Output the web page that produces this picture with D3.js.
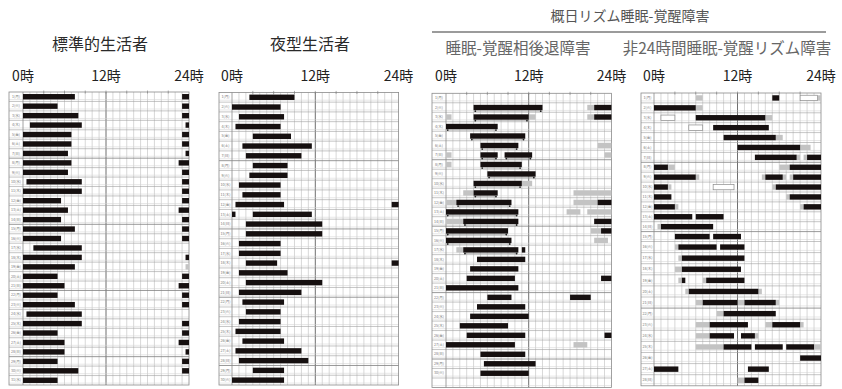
<!DOCTYPE html>
<html>
<head>
<meta charset="utf-8">
<script src="https://cdn.jsdelivr.net/npm/d3@7"></script>
<style>
  body { margin: 0; background: #fff; }
  svg { display: block; }
  text { font-family: "Noto Sans CJK JP", "Noto Sans", sans-serif; }
</style>
</head>
<body>
<svg id="chart" width="842" height="389"></svg>
<script>
// ---- data -------------------------------------------------------------
const groupTitle = "概日リズム睡眠-覚醒障害";
const panelTitles = ["標準的生活者", "夜型生活者", "睡眠-覚醒相後退障害", "非24時間睡眠-覚醒リズム障害"];
const hourTicks = [0, 12, 24];
const hourTickLabels = ["0時", "12時", "24時"];
const weekdays = ["月", "火", "水", "木", "金", "土", "日"];
const dayCounts = [31, 30, 31, 28];

// sleep episodes: [day, start hour, end hour]
const standardSleep = [
  [0,0,7.5],[0,23,24],[1,0,5],[1,23,24],[2,0,8],[2,23,24],[3,1,8.5],[3,23.5,24],
  [4,0,7],[4,23,24],[5,0,7],[5,23,24],[6,0,6.5],[6,23.5,24],[7,0,7],[7,22.5,24],
  [8,0,6.5],[8,23,24],[9,0.5,8.5],[9,23,24],[10,0,8.5],[10,23,24],[11,0,5.5],[11,23,24],
  [12,0,6.5],[12,22.5,24],[13,0,5.5],[13,23,24],[14,0,7.5],[14,23,24],[15,0,5.5],[15,23,24],
  [16,1.5,8.5],[17,0,8.5],[17,23.5,24],[18,0,7.5],[19,0,5],[19,23,24],[20,0,6],[20,22.5,24],
  [21,0,5],[21,23,24],[22,0,7.5],[22,23,24],[23,0.5,8.5],[24,0,8.5],[24,23,24],
  [25,0,5],[25,23,24],[26,0,6],[26,22.5,24],[27,0,6],[27,23.5,24],[28,0,5],[28,23,24],
  [29,0,8],[29,23,24],[30,0,5]
];
const standardDozing = [[18,23.5,24]];

const eveningSleep = [
  [0,2.5,9],[1,0,7],[2,1,7.5],[3,0.5,7],[4,3,8.5],[5,1.5,11.5],[6,2,10],[7,3,8],
  [8,2.5,8],[9,1,7],[10,1.5,7],[11,0.5,7.5],[11,23,24],[12,0,0.5],[12,3,11.5],
  [13,2,13],[14,2,13],[15,1,7],[16,1,7],[17,2,6.5],[17,23,24],[18,1,8],[19,2,13],
  [20,1,10],[21,1.5,7.5],[22,2,7],[23,1,7],[24,0.5,7],[25,1.5,7.5],[26,0.5,10],
  [27,1,11],[28,3,7.5],[29,0,7.5]
];

const dspdSleep = [
  [1,4,14],[1,21.5,24],[2,4,12],[2,21.5,24],[3,0,7.5],[4,3.5,11.5],[5,5,10.5],
  [6,5,7.5],[6,8.5,12.5],[7,5,11],[8,6,13],[9,4,11],[10,4,7.5],[11,1.5,9.5],[11,22,24],
  [12,0,10.5],[13,2.5,10.5],[13,21.5,24],[14,0,9],[14,22.5,24],[15,0,9.5],
  [16,2.5,10.5],[16,11,11.5],[17,4.5,11.5],[18,3.5,10.5],[19,3,10],[19,22.5,24],
  [20,0,10.5],[21,6,9.5],[21,18,21],[22,4.5,11.5],[23,3.5,12],[24,2,9],
  [25,3,11.5],[25,23,24],[26,0,10],[27,5,11.5],[28,5.5,13],[29,5,12]
];
// time in bed without sleep
const dspdInBed = [
  [1,20.5,21.5],[2,0,0.8],[2,12,13],[2,20.5,21.5],[5,22,24],[6,0,0.8],[6,23,24],
  [7,0,0.8],[9,11,12.5],[10,2.5,4],[10,18.5,24],[11,0,1.5],[11,18.5,22],
  [12,17.5,19.5],[12,20.5,24],[13,0,2.5],[14,21,22.5],[15,21.5,23.5],[16,1.5,2.5],
  [26,18.5,20.5]
];
// lights-out / rise marks
const dspdMarks = [
  [1,4,14],[2,4,12],[3,0,7.5],[4,3.5,11.5],[5,5,10.5],[6,5,7.5],[6,8.5,12.5],
  [7,5,11],[8,6,13],[9,4,11],[10,4,7.5],[11,1.5,9.5],[12,0,10.5],[13,2.5,10.5],
  [14,0,9],[15,0,9.5],[16,2.5,10.5]
];

const n24Sleep = [
  [0,17,18],[1,0,6],[2,6,16],[3,8.5,16.5],[4,10,17.5],[5,12,21],[6,14.5,20.5],[6,22,24],
  [7,0,2],[7,19.5,24],[8,0,6],[8,16,18.5],[8,20,24],[9,0,2],[9,17.5,24],
  [10,0,2.5],[10,19.5,24],[11,0,3],[11,21.5,24],[12,0,5.5],[12,6,10],[13,1,8.5],
  [14,3,8],[14,8.5,12.5],[15,3.5,9],[15,9.5,13],[16,4,13],[17,4,12.5],
  [18,4,4.5],[18,7.5,13],[19,5,15],[20,7,12],[20,13,17.5],[21,10,17.5],
  [22,8,13.5],[22,17,21],[23,8,11.5],[23,12.5,14.5],[24,10,14],[24,14.5,18.5],
  [24,19,23],[25,21,24],[26,0,3.5],[26,13.5,16.5],[27,13,15]
];
const n24InBed = [
  [0,6,7],[0,23.5,24],[1,6,7],[2,16,17],[4,17.5,18.5],[5,21,22.5],[6,20.5,21],[6,21.5,22],
  [7,2,3],[7,18,19.5],[8,6,6.5],[8,15.5,16],[8,18.5,19],[8,19.5,20],[9,2,2.5],[9,17,17.5],
  [10,19,19.5],[11,3,3.5],[11,21,21.5],[13,0.5,1],[15,3,3.5],[16,3.5,4],[17,3,4],
  [18,3.5,4],[18,7,7.5],[19,4.5,5],[19,15,15.5],[20,6,7],[20,12,13],[20,17.5,18],
  [21,9,10],[22,6,8],[22,16,17],[22,21,21.5],[23,6,8],[23,14.5,15],[24,6,10],
  [24,23,24],[27,12,13]
];
// out of bed, resting
const n24Resting = [[0,21,23.5],[2,1,3],[3,5,7],[9,8.5,11.5]];

// ---- drawing ----------------------------------------------------------
const svg = d3.select("#chart");
const BAR = 5.4;

const panels = [
  { left: 9,   x0: 23,  x1: 189,   y: d3.scaleLinear().domain([0, 31]).range([92, 385]),
    days: dayCounts[0], sleep: standardSleep, inBed: standardDozing },
  { left: 219, x0: 232, x1: 398.6, y: d3.scaleLinear().domain([0, 30]).range([92.4, 385]),
    days: dayCounts[1], sleep: eveningSleep, inBed: [] },
  { left: 432, x0: 446, x1: 611.4, y: d3.scaleLinear().domain([0, 31]).range([93.3, 387.5]),
    days: dayCounts[2], sleep: dspdSleep, inBed: dspdInBed, marks: dspdMarks },
  { left: 641, x0: 654, x1: 821,   y: d3.scaleLinear().domain([0, 15, 28]).range([93, 241.5, 385.8]),
    days: dayCounts[3], sleep: n24Sleep, inBed: n24InBed, resting: n24Resting }
];

panels.forEach((p, pi) => {
  const x = d3.scaleLinear().domain([0, 24]).range([p.x0, p.x1]);
  const y = p.y;
  const g = svg.append("g");
  const top = y(0), bottom = y(p.days);
  const rowMid = d => (y(d) + y(d + 1)) / 2;

  // hour grid
  g.append("g").selectAll("line").data(d3.range(1, 24)).join("line")
    .attr("x1", d => x(d)).attr("x2", d => x(d))
    .attr("y1", top).attr("y2", bottom)
    .attr("stroke", d => d === 12 ? "#6f6f6f" : "#bdbdbd")
    .attr("stroke-width", d => d === 12 ? 1 : 0.6);

  // day rows
  const days = d3.range(p.days);
  g.append("g").selectAll("line").data(days).join("line")
    .attr("x1", p.left).attr("x2", p.x1)
    .attr("y1", d => y(d) + (y(d + 1) - y(d)) * 0.8)
    .attr("y2", d => y(d) + (y(d + 1) - y(d)) * 0.8)
    .attr("stroke", "#d0d0d0").attr("stroke-width", 0.5);
  g.append("g").selectAll("line").data(days.slice(1)).join("line")
    .attr("x1", p.left).attr("x2", p.x1)
    .attr("y1", d => y(d)).attr("y2", d => y(d))
    .attr("stroke", d => d % 7 === 0 ? "#808080" : "#a0a0a0")
    .attr("stroke-width", d => d % 7 === 0 ? 0.8 : 0.6);

  // frame and label column
  g.append("rect").attr("x", p.left).attr("y", top)
    .attr("width", p.x1 - p.left).attr("height", bottom - top)
    .attr("fill", "none").attr("stroke", "#8a8a8a").attr("stroke-width", 0.8);
  g.append("line").attr("x1", p.x0).attr("x2", p.x0).attr("y1", top).attr("y2", bottom)
    .attr("stroke", "#8a8a8a").attr("stroke-width", 0.8);

  // small 3-hourly ticks on top edge
  g.append("g").selectAll("line").data(d3.range(3, 24, 3)).join("line")
    .attr("x1", d => x(d)).attr("x2", d => x(d))
    .attr("y1", top - 1.5).attr("y2", top + 1.5)
    .attr("stroke", "#777").attr("stroke-width", 0.6);

  // day labels
  const labelDays = pi === 2 ? days.slice(0, 30) : days;
  g.append("g").selectAll("text").data(labelDays).join("text")
    .attr("x", (p.left + p.x0) / 2).attr("y", d => rowMid(d) + 1.2)
    .attr("text-anchor", "middle").attr("font-size", 3.6).attr("fill", "#777")
    .text(d => `${d + 1}(${weekdays[d % 7]})`);

  // grey: in bed but awake
  g.append("g").selectAll("rect").data(p.inBed).join("rect")
    .attr("x", d => x(d[1])).attr("width", d => x(d[2]) - x(d[1]))
    .attr("y", d => rowMid(d[0]) - BAR / 2).attr("height", BAR)
    .attr("fill", "#c3c3c3");

  // white boxes: resting
  if (p.resting) {
    g.append("g").selectAll("rect").data(p.resting).join("rect")
      .attr("x", d => x(d[1])).attr("width", d => x(d[2]) - x(d[1]))
      .attr("y", d => rowMid(d[0]) - BAR / 2).attr("height", BAR)
      .attr("fill", "#fff").attr("stroke", "#8a8a8a").attr("stroke-width", 0.7);
  }

  // sleep bars
  g.append("g").selectAll("rect").data(p.sleep).join("rect")
    .attr("x", d => x(d[1])).attr("width", d => x(d[2]) - x(d[1]))
    .attr("y", d => rowMid(d[0]) - BAR / 2).attr("height", BAR)
    .attr("fill", "#161010");

  // lights-out / rise marks
  if (p.marks) {
    const mg = g.append("g");
    mg.selectAll("line").data(p.marks).join("line")
      .attr("x1", d => x(d[1]) + 1.5).attr("x2", d => x(d[2]) - 1.5)
      .attr("y1", d => rowMid(d[0]) + 3.6).attr("y2", d => rowMid(d[0]) + 3.6)
      .attr("stroke", "#9a9a9a").attr("stroke-width", 0.6);
    const ends = p.marks.flatMap(d => [[d[0], d[1] + 0.25], [d[0], d[2] - 0.25]]);
    mg.selectAll("circle").data(ends).join("circle")
      .attr("cx", d => x(d[1])).attr("cy", d => rowMid(d[0]) + 3.6)
      .attr("r", 0.9).attr("fill", "#222");
  }

  // hour labels
  g.append("g").selectAll("text").data(hourTicks).join("text")
    .attr("x", d => x(d)).attr("y", 81)
    .attr("text-anchor", "middle").attr("font-size", 14).attr("fill", "#222")
    .text((d, i) => hourTickLabels[i]);
});

// titles
const titleX = [100, 310, 518, 727];
svg.append("g").selectAll("text").data(panelTitles).join("text")
  .attr("x", (d, i) => titleX[i]).attr("y", (d, i) => i < 2 ? 50 : 54)
  .attr("text-anchor", "middle")
  .attr("font-size", (d, i) => i < 2 ? 16 : 15.5)
  .attr("fill", (d, i) => i < 2 ? "#2a2a2a" : "#666")
  .text(d => d);

svg.append("text").attr("x", 630).attr("y", 21).attr("text-anchor", "middle")
  .attr("font-size", 14).attr("fill", "#555").text(groupTitle);
svg.append("line").attr("x1", 432).attr("x2", 826).attr("y1", 32).attr("y2", 32)
  .attr("stroke", "#7a7a7a").attr("stroke-width", 1.5);
</script>
</body>
</html>
